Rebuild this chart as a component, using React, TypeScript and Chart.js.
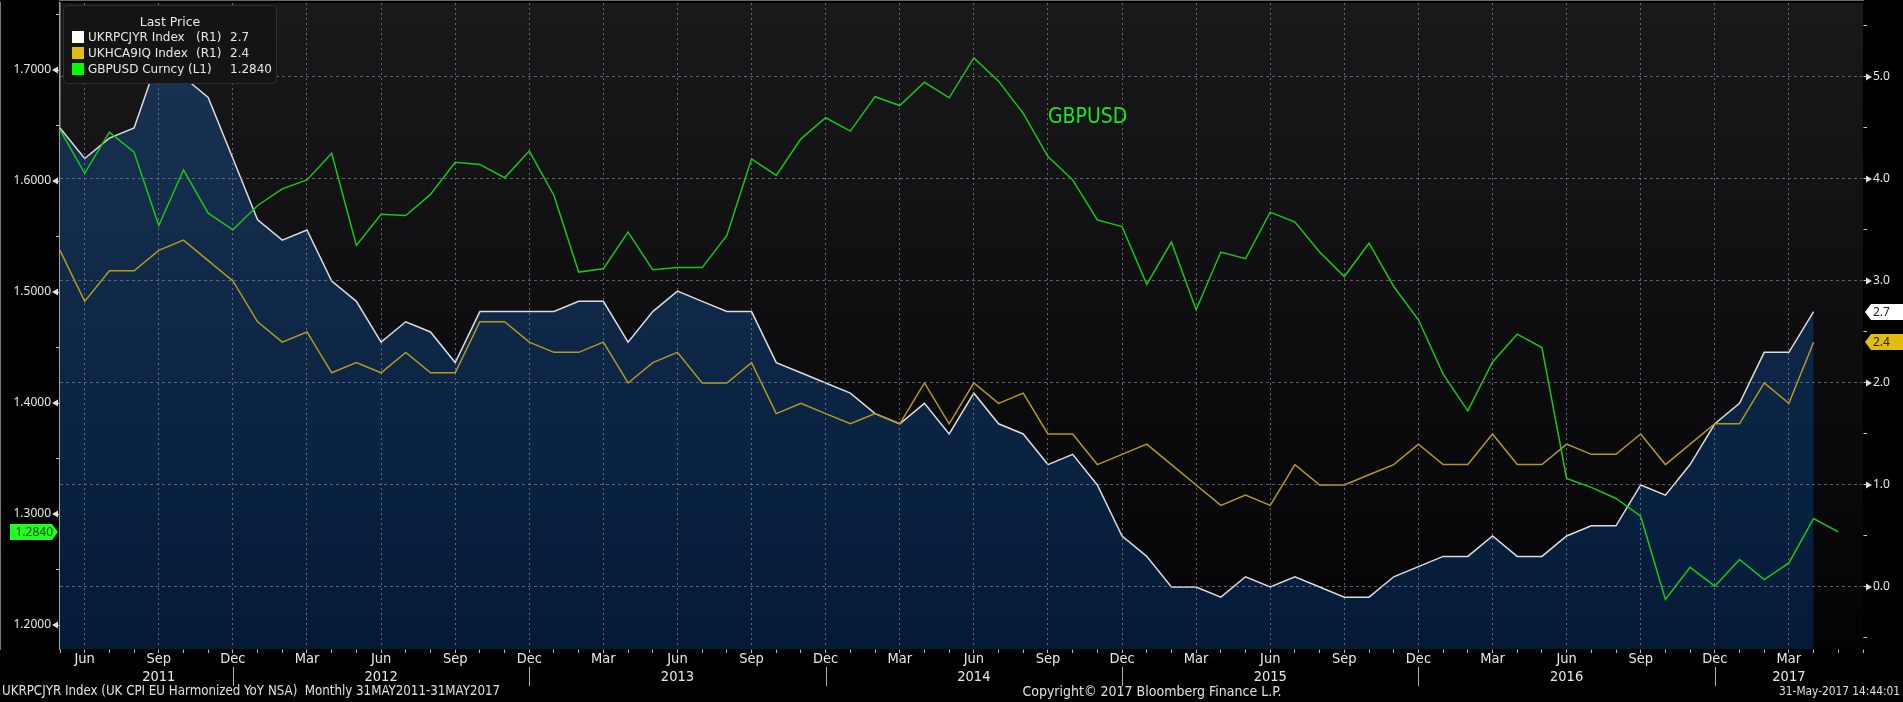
import React, { useEffect, useRef } from 'react';
import { Chart, registerables } from 'chart.js';

Chart.register(...registerables);

// ---------- data ----------
const categories: string[] = [
  'May 2011', 'Jun 2011', 'Jul 2011', 'Aug 2011', 'Sep 2011', 'Oct 2011', 'Nov 2011', 'Dec 2011',
  'Jan 2012', 'Feb 2012', 'Mar 2012', 'Apr 2012', 'May 2012', 'Jun 2012', 'Jul 2012', 'Aug 2012', 'Sep 2012', 'Oct 2012', 'Nov 2012', 'Dec 2012',
  'Jan 2013', 'Feb 2013', 'Mar 2013', 'Apr 2013', 'May 2013', 'Jun 2013', 'Jul 2013', 'Aug 2013', 'Sep 2013', 'Oct 2013', 'Nov 2013', 'Dec 2013',
  'Jan 2014', 'Feb 2014', 'Mar 2014', 'Apr 2014', 'May 2014', 'Jun 2014', 'Jul 2014', 'Aug 2014', 'Sep 2014', 'Oct 2014', 'Nov 2014', 'Dec 2014',
  'Jan 2015', 'Feb 2015', 'Mar 2015', 'Apr 2015', 'May 2015', 'Jun 2015', 'Jul 2015', 'Aug 2015', 'Sep 2015', 'Oct 2015', 'Nov 2015', 'Dec 2015',
  'Jan 2016', 'Feb 2016', 'Mar 2016', 'Apr 2016', 'May 2016', 'Jun 2016', 'Jul 2016', 'Aug 2016', 'Sep 2016', 'Oct 2016', 'Nov 2016', 'Dec 2016',
  'Jan 2017', 'Feb 2017', 'Mar 2017', 'Apr 2017', 'May 2017', 'Jun 2017',
];

// UK CPI EU Harmonized YoY (right axis)
const ukrpcjyr: (number | null)[] = [
  4.5, 4.2, 4.4, 4.5, 5.2, 5.0, 4.8, 4.2,
  3.6, 3.4, 3.5, 3.0, 2.8, 2.4, 2.6, 2.5, 2.2, 2.7, 2.7, 2.7,
  2.7, 2.8, 2.8, 2.4, 2.7, 2.9, 2.8, 2.7, 2.7, 2.2, 2.1, 2.0,
  1.9, 1.7, 1.6, 1.8, 1.5, 1.9, 1.6, 1.5, 1.2, 1.3, 1.0, 0.5,
  0.3, 0.0, 0.0, -0.1, 0.1, 0.0, 0.1, 0.0, -0.1, -0.1, 0.1, 0.2,
  0.3, 0.3, 0.5, 0.3, 0.3, 0.5, 0.6, 0.6, 1.0, 0.9, 1.2, 1.6,
  1.8, 2.3, 2.3, 2.7, null, null,
];

// UKHCA9IQ (right axis)
const ukhca9iq: (number | null)[] = [
  3.3, 2.8, 3.1, 3.1, 3.3, 3.4, 3.2, 3.0,
  2.6, 2.4, 2.5, 2.1, 2.2, 2.1, 2.3, 2.1, 2.1, 2.6, 2.6, 2.4,
  2.3, 2.3, 2.4, 2.0, 2.2, 2.3, 2.0, 2.0, 2.2, 1.7, 1.8, 1.7,
  1.6, 1.7, 1.6, 2.0, 1.6, 2.0, 1.8, 1.9, 1.5, 1.5, 1.2, 1.3,
  1.4, 1.2, 1.0, 0.8, 0.9, 0.8, 1.2, 1.0, 1.0, 1.1, 1.2, 1.4,
  1.2, 1.2, 1.5, 1.2, 1.2, 1.4, 1.3, 1.3, 1.5, 1.2, 1.4, 1.6,
  1.6, 2.0, 1.8, 2.4, null, null,
];

// GBPUSD (left axis)
const gbpusd: (number | null)[] = [
  1.646, 1.607, 1.644, 1.626, 1.560, 1.610, 1.571, 1.556,
  1.578, 1.593, 1.601, 1.625, 1.542, 1.570, 1.569, 1.588, 1.617, 1.615, 1.603, 1.627,
  1.587, 1.518, 1.521, 1.554, 1.520, 1.522, 1.522, 1.551, 1.620, 1.605, 1.638, 1.657,
  1.645, 1.676, 1.668, 1.689, 1.675, 1.711, 1.690, 1.661, 1.622, 1.601, 1.565, 1.559,
  1.507, 1.545, 1.484, 1.536, 1.530, 1.572, 1.563, 1.536, 1.514, 1.544, 1.505, 1.475,
  1.426, 1.393, 1.437, 1.462, 1.450, 1.332, 1.324, 1.314, 1.298, 1.223, 1.252, 1.235,
  1.259, 1.241, 1.256, 1.296, 1.284, null,
];

const seriesNames = ['UKRPCJYR Index', 'UKHCA9IQ Index', 'GBPUSD Curncy'];
const seriesAxes = ['(R1)', '(R1)', '(L1)'];

const quarterMonths = ['Mar', 'Jun', 'Sep', 'Dec'];
const yearLabels: Record<string, string> = {
  'Sep 2011': '2011', 'Jun 2012': '2012', 'Jun 2013': '2013', 'Jun 2014': '2014',
  'Jun 2015': '2015', 'Jun 2016': '2016', 'Mar 2017': '2017',
};

const leftTickValues = [1.2, 1.25, 1.3, 1.35, 1.4, 1.45, 1.5, 1.55, 1.6, 1.65, 1.7, 1.75];
const leftTickLabels = ['1.2000', '', '1.3000', '', '1.4000', '', '1.5000', '', '1.6000', '', '1.7000', ''];
const rightTickValues = [-0.5, 0, 0.5, 1, 1.5, 2, 2.5, 3, 3.5, 4, 4.5, 5, 5.5];
const rightTickLabels = ['', '0.0', '', '1.0', '', '2.0', '', '3.0', '', '4.0', '', '5.0', ''];

const LEFT_MIN = 1.1784;
const LEFT_MAX = 1.7604;
const RIGHT_MIN = -0.608;
const RIGHT_MAX = 5.725;

const titleText = 'Last Price';
const annotationText = 'GBPUSD';
const footerLeft = 'UKRPCJYR Index (UK CPI EU Harmonized YoY NSA)  Monthly 31MAY2011-31MAY2017';
const footerCenter = 'Copyright\u00A9 2017 Bloomberg Finance L.P.';
const footerRight = '31-May-2017 14:44:01';

// ---------- styles ----------
const WHITE = '#dcdcdc';
const YELLOW = '#b39a1e';
const GREEN = '#16c816';
const LEGEND_FONT = "'DejaVu Sans', Verdana, sans-serif";
const AXIS_FONT = "'Noto Sans', 'DejaVu Sans', sans-serif";
const NARROW_FONT = "'Liberation Sans Narrow', 'DejaVu Sans Condensed', 'Arial Narrow', sans-serif";

function lastValue(arr: (number | null)[]): number {
  for (let i = arr.length - 1; i >= 0; i--) if (arr[i] !== null) return arr[i] as number;
  return 0;
}

const overlayPlugin = {
  id: 'bbgOverlay',
  beforeDraw(chart: any) {
    const { ctx, chartArea: a, width, height } = chart;
    ctx.save();
    ctx.fillStyle = '#000';
    ctx.fillRect(0, 0, width, height);
    const g = ctx.createLinearGradient(0, a.top, 0, a.bottom);
    g.addColorStop(0, 'rgb(25,25,28)');
    g.addColorStop(1, 'rgb(3,3,6)');
    ctx.fillStyle = g;
    ctx.fillRect(a.left, a.top, a.right - a.left, a.bottom - a.top);
    ctx.restore();
  },
  afterDraw(chart: any) {
    const { ctx, chartArea: a } = chart;
    const xS = chart.scales.x;
    const yL = chart.scales.yL;
    const yR = chart.scales.yR;
    ctx.save();

    // arrows at labelled ticks
    ctx.fillStyle = '#e0e0e0';
    leftTickValues.forEach((v, i) => {
      if (!leftTickLabels[i]) return;
      const y = yL.getPixelForValue(v);
      ctx.beginPath();
      ctx.moveTo(a.left - 8, y);
      ctx.lineTo(a.left - 2, y - 3.5);
      ctx.lineTo(a.left - 2, y + 3.5);
      ctx.closePath();
      ctx.fill();
    });
    rightTickValues.forEach((v, i) => {
      if (!rightTickLabels[i]) return;
      const y = yR.getPixelForValue(v);
      ctx.beginPath();
      ctx.moveTo(a.right + 9, y);
      ctx.lineTo(a.right + 3, y - 3.5);
      ctx.lineTo(a.right + 3, y + 3.5);
      ctx.closePath();
      ctx.fill();
    });

    // year separators
    ctx.strokeStyle = '#b0b0b0';
    ctx.lineWidth = 1;
    categories.forEach((c, i) => {
      if (c.startsWith('Dec')) {
        const x = Math.round(xS.getPixelForValue(i)) + 0.5;
        ctx.beginPath();
        ctx.moveTo(x, a.bottom + 18);
        ctx.lineTo(x, a.bottom + 37);
        ctx.stroke();
      }
    });

    // GBPUSD annotation
    ctx.fillStyle = '#1ee61e';
    ctx.font = `21px ${NARROW_FONT}`;
    ctx.textBaseline = 'middle';
    ctx.textAlign = 'left';
    ctx.fillText(annotationText, xS.getPixelForValue(40), yL.getPixelForValue(1.6575));

    // legend box
    const lx = 63, ly = 5, lw = 213, lh = 78;
    ctx.fillStyle = '#141414';
    ctx.strokeStyle = '#303030';
    ctx.lineWidth = 1;
    ctx.beginPath();
    (ctx as any).roundRect(lx + 0.5, ly + 0.5, lw, lh, 4);
    ctx.fill();
    ctx.stroke();
    ctx.font = `12.5px ${LEGEND_FONT}`;
    ctx.fillStyle = '#e8e8e8';
    ctx.textAlign = 'center';
    ctx.fillText(titleText, 170, 23);
    const lastVals = [
      lastValue(ukrpcjyr).toFixed(1),
      lastValue(ukhca9iq).toFixed(1),
      lastValue(gbpusd).toFixed(4),
    ];
    const swatch = ['#ffffff', '#e0bd0e', '#00ff00'];
    const tagX = [196, 196, 188];
    ctx.font = `12px ${LEGEND_FONT}`;
    ctx.textAlign = 'left';
    for (let i = 0; i < 3; i++) {
      const yy = 37 + i * 16;
      ctx.fillStyle = swatch[i];
      ctx.fillRect(72, yy - 6, 12, 12);
      ctx.fillStyle = '#e8e8e8';
      ctx.fillText(seriesNames[i], 88, yy + 1);
      ctx.fillText(seriesAxes[i], tagX[i], yy + 1);
      ctx.fillText(lastVals[i], 230, yy + 1);
    }

    // value tags
    const tagR = (val: number, bg: string, fg: string, text: string) => {
      const y = Math.round(yR.getPixelForValue(val));
      const x0 = a.right + 2;
      ctx.fillStyle = bg;
      ctx.beginPath();
      ctx.moveTo(x0, y);
      ctx.lineTo(x0 + 6, y - 8);
      ctx.lineTo(1903, y - 8);
      ctx.lineTo(1903, y + 8);
      ctx.lineTo(x0 + 6, y + 8);
      ctx.closePath();
      ctx.fill();
      ctx.fillStyle = fg;
      ctx.font = `12px ${AXIS_FONT}`;
      ctx.textAlign = 'left';
      ctx.fillText(text, x0 + 8, y + 1);
    };
    tagR(lastValue(ukrpcjyr), '#ffffff', '#202020', lastVals[0]);
    tagR(lastValue(ukhca9iq), '#e0bd0e', '#202020', lastVals[1]);

    {
      const y = Math.round(yL.getPixelForValue(lastValue(gbpusd)));
      const x1 = a.left - 2;
      ctx.fillStyle = '#22fb22';
      ctx.beginPath();
      ctx.moveTo(10, y - 8);
      ctx.lineTo(x1 - 6, y - 8);
      ctx.lineTo(x1, y);
      ctx.lineTo(x1 - 6, y + 8);
      ctx.lineTo(10, y + 8);
      ctx.closePath();
      ctx.fill();
      ctx.fillStyle = '#0a4a0a';
      ctx.font = `12px ${AXIS_FONT}`;
      ctx.textAlign = 'right';
      ctx.fillText(lastVals[2], x1 - 5, y + 1);
    }

    // footer
    ctx.fillStyle = '#e0e0e0';
    ctx.textBaseline = 'middle';
    ctx.textAlign = 'left';
    ctx.font = `13.2px ${NARROW_FONT}`;
    ctx.fillText(footerLeft, 2, 692);
    ctx.textAlign = 'center';
    ctx.font = `14px ${NARROW_FONT}`;
    ctx.fillText(footerCenter, 1152, 692);
    ctx.textAlign = 'right';
    ctx.font = `11.8px ${NARROW_FONT}`;
    ctx.fillText(footerRight, 1900, 692);

    ctx.restore();
  },
};

export default function App() {
  const ref = useRef<HTMLCanvasElement>(null);

  useEffect(() => {
    const canvas = ref.current;
    if (!canvas) return;
    const fillGradient = (c: any) => {
      const area = c.chart.chartArea;
      if (!area) return 'rgb(10,36,66)';
      const g = c.chart.ctx.createLinearGradient(0, area.top, 0, area.bottom);
      g.addColorStop(0, 'rgb(27,52,84)');
      g.addColorStop(1, 'rgb(3,27,57)');
      return g;
    };
    const chart = new Chart(canvas, {
      type: 'line',
      data: {
        labels: categories,
        datasets: [
          {
            label: seriesNames[0], data: ukrpcjyr, yAxisID: 'yR', borderColor: WHITE, borderWidth: 1.5,
            backgroundColor: fillGradient, fill: 'start', pointRadius: 0, tension: 0, order: 3,
          },
          {
            label: seriesNames[1], data: ukhca9iq, yAxisID: 'yR', borderColor: YELLOW, borderWidth: 1.5,
            fill: false, pointRadius: 0, tension: 0, order: 2,
          },
          {
            label: seriesNames[2], data: gbpusd, yAxisID: 'yL', borderColor: GREEN, borderWidth: 1.5,
            fill: false, pointRadius: 0, tension: 0, order: 1,
          },
        ],
      },
      options: {
        responsive: false,
        animation: false,
        devicePixelRatio: 1,
        layout: { padding: { top: 3, left: 0, right: 0, bottom: 0 } },
        plugins: { legend: { display: false }, tooltip: { enabled: false } },
        scales: {
          x: {
            type: 'category',
            position: 'bottom',
            offset: false,
            afterFit: (s: any) => { s.height = 53; s.paddingLeft = 0; s.paddingRight = 0; },
            grid: {
              z: 1,
              offset: false,
              lineWidth: 1,
              color: (c: any) => {
                const lab = categories[c.index] || '';
                return quarterMonths.includes(lab.slice(0, 3)) && c.index < categories.length - 1
                  ? 'rgba(140,140,150,0.7)' : 'rgba(0,0,0,0)';
              },
              tickColor: '#b8b8b8',
              tickLength: 4,
            },
            border: { display: true, color: '#8c8c8c', width: 1.5, dash: [2, 3] },
            ticks: {
              autoSkip: false,
              maxRotation: 0,
              minRotation: 0,
              padding: -2,
              color: '#e8e8e8',
              font: { family: NARROW_FONT, size: 14.5, lineHeight: 1.2 },
              callback: (_v: any, i: number) => {
                const lab = categories[i] || '';
                const m = lab.slice(0, 3);
                if (!quarterMonths.includes(m) || i >= categories.length - 1) return '';
                const yr = yearLabels[lab];
                return yr ? [m, yr] : m;
              },
            },
          },
          yL: {
            type: 'linear',
            position: 'left',
            min: LEFT_MIN,
            max: LEFT_MAX,
            afterBuildTicks: (s: any) => { s.ticks = leftTickValues.map((v) => ({ value: v })); },
            afterFit: (s: any) => { s.width = 60; s.paddingTop = 0; s.paddingBottom = 0; },
            grid: { drawOnChartArea: false, tickColor: '#c8c8c8', tickLength: 4 },
            border: { display: true, color: '#a0a0a0', width: 1.5 },
            ticks: {
              padding: 5,
              color: '#e8e8e8',
              font: { family: AXIS_FONT, size: 12 },
              callback: (_v: any, i: number) => leftTickLabels[i] ?? '',
            },
          },
          yR: {
            type: 'linear',
            position: 'right',
            min: RIGHT_MIN,
            max: RIGHT_MAX,
            afterBuildTicks: (s: any) => { s.ticks = rightTickValues.map((v) => ({ value: v })); },
            afterFit: (s: any) => { s.width = 40; s.paddingTop = 0; s.paddingBottom = 0; },
            grid: {
              z: 1,
              drawOnChartArea: true,
              color: (c: any) => (rightTickLabels[c.index] ? 'rgba(130,130,140,0.7)' : 'rgba(0,0,0,0)'),
              tickColor: '#c8c8c8',
              tickLength: 4,
            },
            border: { display: true, color: '#a0a0a0', width: 1.5, dash: [3, 3] },
            ticks: {
              padding: 6,
              color: '#e8e8e8',
              font: { family: AXIS_FONT, size: 12 },
              callback: (_v: any, i: number) => rightTickLabels[i] ?? '',
            },
          },
        },
      } as any,
      plugins: [overlayPlugin],
    });
    return () => chart.destroy();
  }, []);

  return (
    <div style={{ position: 'fixed', left: 0, top: 0, width: 1903, height: 702, background: '#000' }}>
      <canvas ref={ref} width={1903} height={702} style={{ display: 'block', width: 1903, height: 702 }} />
    </div>
  );
}
